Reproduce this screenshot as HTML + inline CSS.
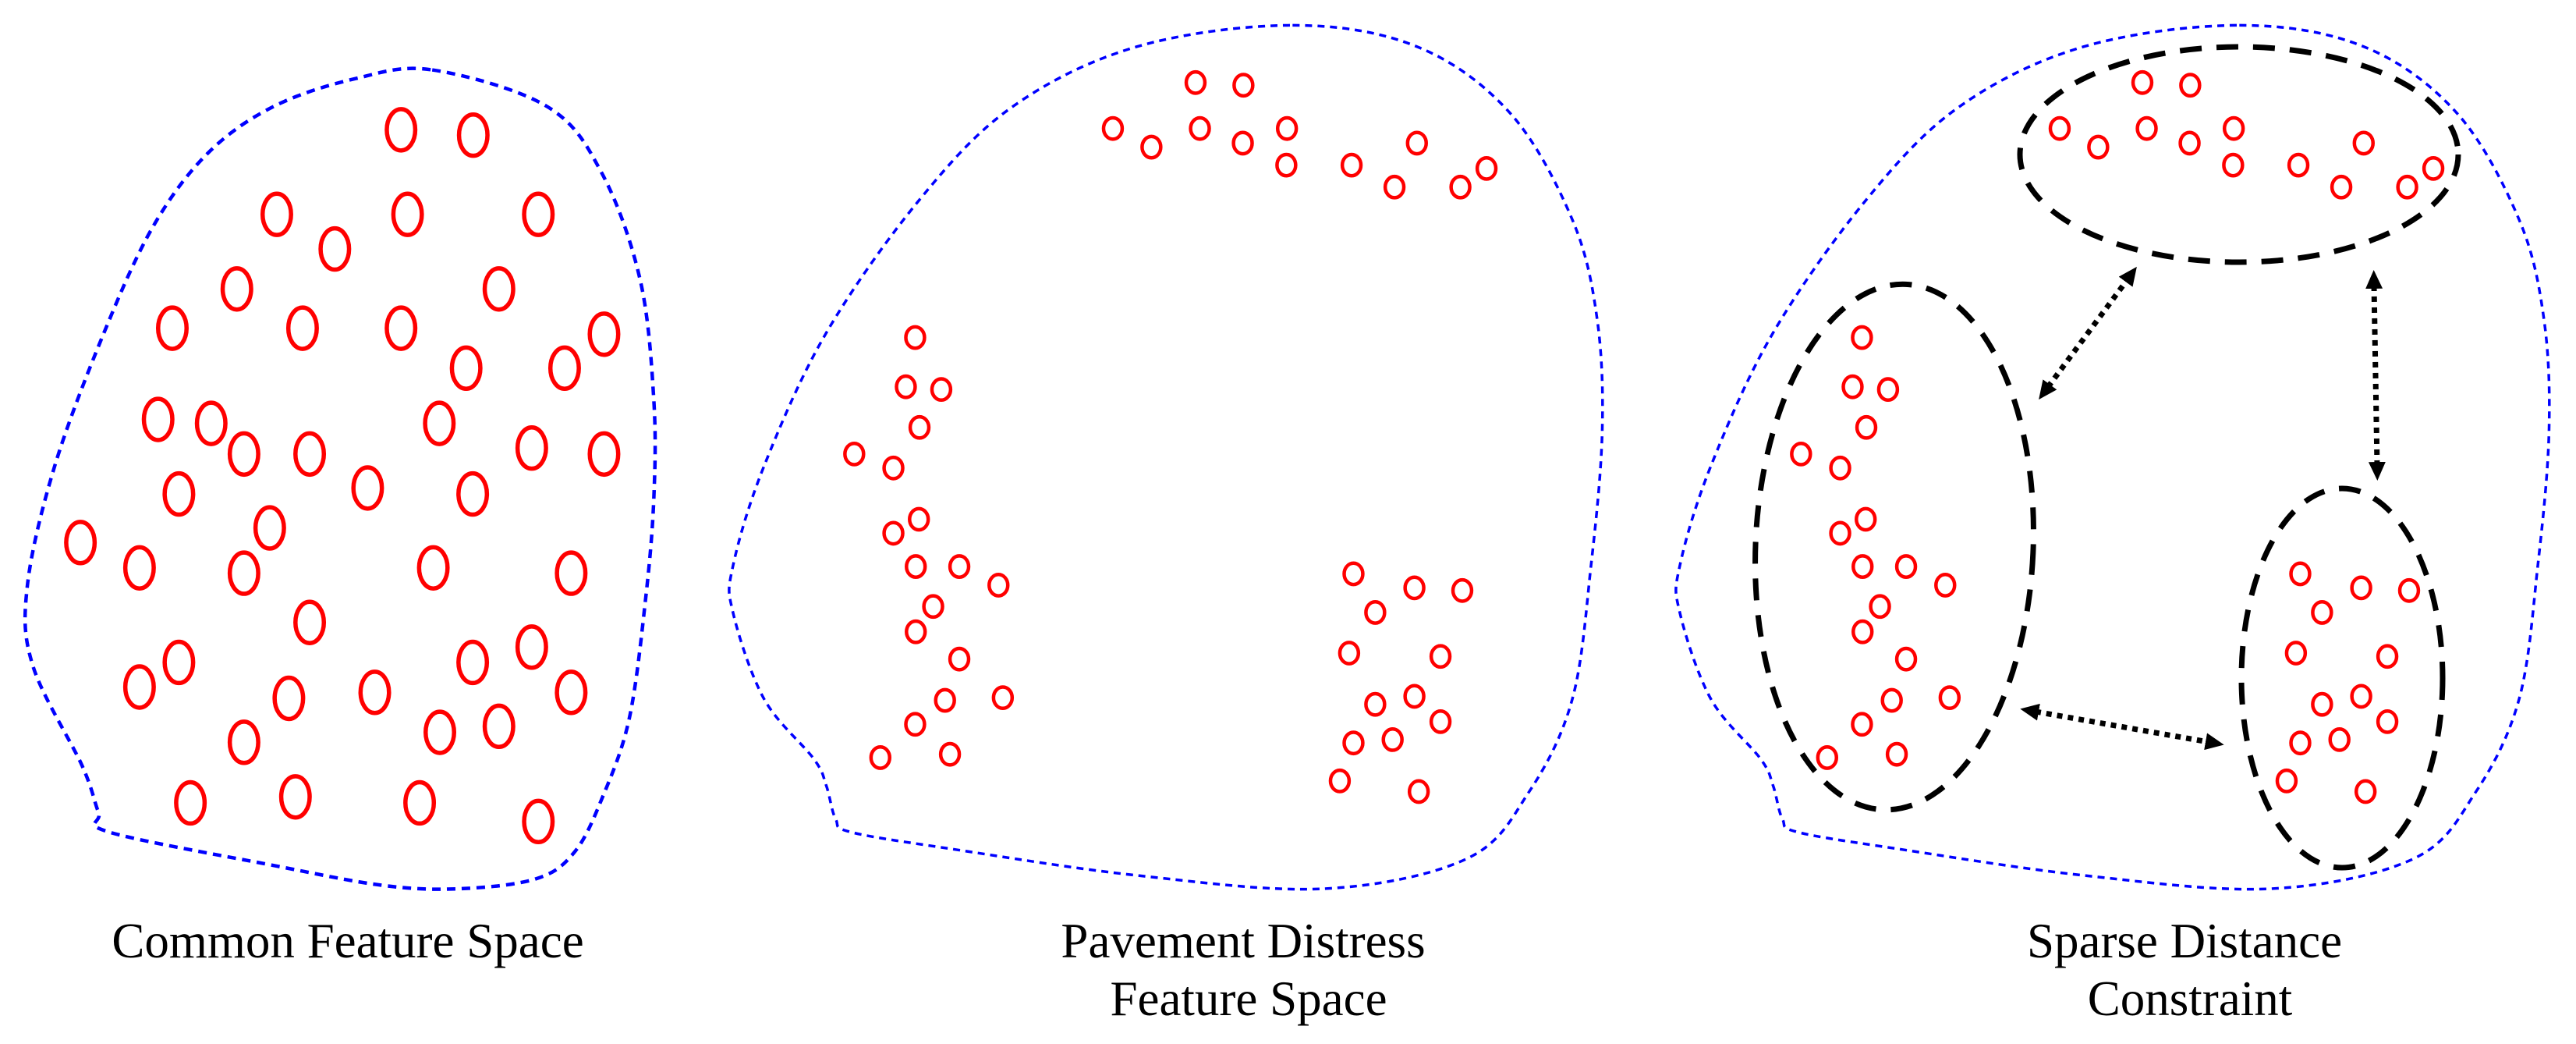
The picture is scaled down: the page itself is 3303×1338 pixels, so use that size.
<!DOCTYPE html>
<html><head><meta charset="utf-8"><style>
html,body{margin:0;padding:0;background:#fff;}
svg{display:block;}
</style></head><body>
<svg width="3303" height="1338" viewBox="0 0 3303 1338" xmlns="http://www.w3.org/2000/svg">
<defs>
<marker id="ah" markerUnits="userSpaceOnUse" markerWidth="26" markerHeight="22" refX="4" refY="11" orient="auto-start-reverse">
<path d="M0,0 L24,11 L0,22 Z" fill="#000"/>
</marker>
</defs>

<g transform="scale(0.7015,0.8532)">
<polygon class="blob" points="790,105 1000,160 1100,260 1170,420 1195,600 1195,750 1180,900 1150,1080 1100,1200 1050,1280 980,1320 840,1335 700,1330 500,1300 200,1250 180,1220 150,1150 60,1000 50,880 100,700 190,500 280,340 380,230 500,160 650,118" fill="none" stroke="#0000ff" stroke-width="4.5" stroke-dasharray="11 8" vector-effect="non-scaling-stroke"/>
<g fill="none" stroke="#ff0000" stroke-width="5.5">
<ellipse cx="733" cy="195" rx="26" ry="31" vector-effect="non-scaling-stroke"/>
<ellipse cx="865" cy="203" rx="26" ry="31" vector-effect="non-scaling-stroke"/>
<ellipse cx="506" cy="322" rx="26" ry="31" vector-effect="non-scaling-stroke"/>
<ellipse cx="745" cy="322" rx="26" ry="31" vector-effect="non-scaling-stroke"/>
<ellipse cx="984" cy="322" rx="26" ry="31" vector-effect="non-scaling-stroke"/>
<ellipse cx="612" cy="374" rx="26" ry="31" vector-effect="non-scaling-stroke"/>
<ellipse cx="433" cy="434" rx="26" ry="31" vector-effect="non-scaling-stroke"/>
<ellipse cx="912" cy="434" rx="26" ry="31" vector-effect="non-scaling-stroke"/>
<ellipse cx="315" cy="493" rx="26" ry="31" vector-effect="non-scaling-stroke"/>
<ellipse cx="553" cy="493" rx="26" ry="31" vector-effect="non-scaling-stroke"/>
<ellipse cx="733" cy="493" rx="26" ry="31" vector-effect="non-scaling-stroke"/>
<ellipse cx="1104" cy="502" rx="26" ry="31" vector-effect="non-scaling-stroke"/>
<ellipse cx="852" cy="553" rx="26" ry="31" vector-effect="non-scaling-stroke"/>
<ellipse cx="1032" cy="553" rx="26" ry="31" vector-effect="non-scaling-stroke"/>
<ellipse cx="289" cy="630" rx="26" ry="31" vector-effect="non-scaling-stroke"/>
<ellipse cx="386" cy="636" rx="26" ry="31" vector-effect="non-scaling-stroke"/>
<ellipse cx="803" cy="636" rx="26" ry="31" vector-effect="non-scaling-stroke"/>
<ellipse cx="446" cy="682" rx="26" ry="31" vector-effect="non-scaling-stroke"/>
<ellipse cx="566" cy="682" rx="26" ry="31" vector-effect="non-scaling-stroke"/>
<ellipse cx="972" cy="673" rx="26" ry="31" vector-effect="non-scaling-stroke"/>
<ellipse cx="1104" cy="682" rx="26" ry="31" vector-effect="non-scaling-stroke"/>
<ellipse cx="327" cy="742" rx="26" ry="31" vector-effect="non-scaling-stroke"/>
<ellipse cx="672" cy="733" rx="26" ry="31" vector-effect="non-scaling-stroke"/>
<ellipse cx="864" cy="742" rx="26" ry="31" vector-effect="non-scaling-stroke"/>
<ellipse cx="493" cy="793" rx="26" ry="31" vector-effect="non-scaling-stroke"/>
<ellipse cx="147" cy="815" rx="26" ry="31" vector-effect="non-scaling-stroke"/>
<ellipse cx="255" cy="853" rx="26" ry="31" vector-effect="non-scaling-stroke"/>
<ellipse cx="446" cy="861" rx="26" ry="31" vector-effect="non-scaling-stroke"/>
<ellipse cx="792" cy="853" rx="26" ry="31" vector-effect="non-scaling-stroke"/>
<ellipse cx="1044" cy="861" rx="26" ry="31" vector-effect="non-scaling-stroke"/>
<ellipse cx="566" cy="935" rx="26" ry="31" vector-effect="non-scaling-stroke"/>
<ellipse cx="327" cy="995" rx="26" ry="31" vector-effect="non-scaling-stroke"/>
<ellipse cx="864" cy="995" rx="26" ry="31" vector-effect="non-scaling-stroke"/>
<ellipse cx="972" cy="972" rx="26" ry="31" vector-effect="non-scaling-stroke"/>
<ellipse cx="255" cy="1032" rx="26" ry="31" vector-effect="non-scaling-stroke"/>
<ellipse cx="528" cy="1049" rx="26" ry="31" vector-effect="non-scaling-stroke"/>
<ellipse cx="685" cy="1040" rx="26" ry="31" vector-effect="non-scaling-stroke"/>
<ellipse cx="1044" cy="1040" rx="26" ry="31" vector-effect="non-scaling-stroke"/>
<ellipse cx="446" cy="1115" rx="26" ry="31" vector-effect="non-scaling-stroke"/>
<ellipse cx="804" cy="1100" rx="26" ry="31" vector-effect="non-scaling-stroke"/>
<ellipse cx="912" cy="1091" rx="26" ry="31" vector-effect="non-scaling-stroke"/>
<ellipse cx="348" cy="1206" rx="26" ry="31" vector-effect="non-scaling-stroke"/>
<ellipse cx="540" cy="1197" rx="26" ry="31" vector-effect="non-scaling-stroke"/>
<ellipse cx="767" cy="1206" rx="26" ry="31" vector-effect="non-scaling-stroke"/>
<ellipse cx="984" cy="1234" rx="26" ry="31" vector-effect="non-scaling-stroke"/>
</g>
</g>
<text x="446" y="1227" text-anchor="middle" font-family="Liberation Serif, Times New Roman, serif" font-size="63" fill="#000">Common Feature Space</text>

<g id="p2" transform="translate(900,0) scale(0.7972,0.8532)">
<polygon class="blob" points="950,38 1150,70 1300,170 1400,330 1440,480 1448,650 1430,850 1400,1050 1330,1190 1230,1290 1000,1335 700,1315 400,1275 240,1250 215,1230 200,1180 180,1140 100,1050 50,920 50,850 100,700 200,500 350,300 500,160 700,70" fill="none" stroke="#0000ff" stroke-width="3.5" stroke-dasharray="9 7" vector-effect="non-scaling-stroke"/>
<g fill="none" stroke="#ff0000" stroke-width="4.5">
<ellipse cx="794" cy="124" rx="15" ry="16" vector-effect="non-scaling-stroke"/>
<ellipse cx="871" cy="128" rx="15" ry="16" vector-effect="non-scaling-stroke"/>
<ellipse cx="661" cy="193" rx="15" ry="16" vector-effect="non-scaling-stroke"/>
<ellipse cx="723" cy="221" rx="15" ry="16" vector-effect="non-scaling-stroke"/>
<ellipse cx="801" cy="193" rx="15" ry="16" vector-effect="non-scaling-stroke"/>
<ellipse cx="870" cy="215" rx="15" ry="16" vector-effect="non-scaling-stroke"/>
<ellipse cx="941" cy="193" rx="15" ry="16" vector-effect="non-scaling-stroke"/>
<ellipse cx="940" cy="248" rx="15" ry="16" vector-effect="non-scaling-stroke"/>
<ellipse cx="1045" cy="248" rx="15" ry="16" vector-effect="non-scaling-stroke"/>
<ellipse cx="1150" cy="215" rx="15" ry="16" vector-effect="non-scaling-stroke"/>
<ellipse cx="1114" cy="281" rx="15" ry="16" vector-effect="non-scaling-stroke"/>
<ellipse cx="1220" cy="281" rx="15" ry="16" vector-effect="non-scaling-stroke"/>
<ellipse cx="1262" cy="253" rx="15" ry="16" vector-effect="non-scaling-stroke"/>
<ellipse cx="343" cy="507" rx="15" ry="16" vector-effect="non-scaling-stroke"/>
<ellipse cx="328" cy="581" rx="15" ry="16" vector-effect="non-scaling-stroke"/>
<ellipse cx="385" cy="585" rx="15" ry="16" vector-effect="non-scaling-stroke"/>
<ellipse cx="350" cy="642" rx="15" ry="16" vector-effect="non-scaling-stroke"/>
<ellipse cx="245" cy="682" rx="15" ry="16" vector-effect="non-scaling-stroke"/>
<ellipse cx="308" cy="703" rx="15" ry="16" vector-effect="non-scaling-stroke"/>
<ellipse cx="349" cy="780" rx="15" ry="16" vector-effect="non-scaling-stroke"/>
<ellipse cx="308" cy="801" rx="15" ry="16" vector-effect="non-scaling-stroke"/>
<ellipse cx="344" cy="851" rx="15" ry="16" vector-effect="non-scaling-stroke"/>
<ellipse cx="414" cy="851" rx="15" ry="16" vector-effect="non-scaling-stroke"/>
<ellipse cx="477" cy="879" rx="15" ry="16" vector-effect="non-scaling-stroke"/>
<ellipse cx="372" cy="911" rx="15" ry="16" vector-effect="non-scaling-stroke"/>
<ellipse cx="344" cy="949" rx="15" ry="16" vector-effect="non-scaling-stroke"/>
<ellipse cx="414" cy="990" rx="15" ry="16" vector-effect="non-scaling-stroke"/>
<ellipse cx="484" cy="1048" rx="15" ry="16" vector-effect="non-scaling-stroke"/>
<ellipse cx="391" cy="1052" rx="15" ry="16" vector-effect="non-scaling-stroke"/>
<ellipse cx="343" cy="1088" rx="15" ry="16" vector-effect="non-scaling-stroke"/>
<ellipse cx="287" cy="1138" rx="15" ry="16" vector-effect="non-scaling-stroke"/>
<ellipse cx="399" cy="1133" rx="15" ry="16" vector-effect="non-scaling-stroke"/>
<ellipse cx="1048" cy="862" rx="15" ry="16" vector-effect="non-scaling-stroke"/>
<ellipse cx="1146" cy="883" rx="15" ry="16" vector-effect="non-scaling-stroke"/>
<ellipse cx="1223" cy="887" rx="15" ry="16" vector-effect="non-scaling-stroke"/>
<ellipse cx="1083" cy="920" rx="15" ry="16" vector-effect="non-scaling-stroke"/>
<ellipse cx="1041" cy="981" rx="15" ry="16" vector-effect="non-scaling-stroke"/>
<ellipse cx="1188" cy="986" rx="15" ry="16" vector-effect="non-scaling-stroke"/>
<ellipse cx="1083" cy="1058" rx="15" ry="16" vector-effect="non-scaling-stroke"/>
<ellipse cx="1146" cy="1046" rx="15" ry="16" vector-effect="non-scaling-stroke"/>
<ellipse cx="1188" cy="1084" rx="15" ry="16" vector-effect="non-scaling-stroke"/>
<ellipse cx="1048" cy="1116" rx="15" ry="16" vector-effect="non-scaling-stroke"/>
<ellipse cx="1111" cy="1111" rx="15" ry="16" vector-effect="non-scaling-stroke"/>
<ellipse cx="1026" cy="1173" rx="15" ry="16" vector-effect="non-scaling-stroke"/>
<ellipse cx="1153" cy="1189" rx="15" ry="16" vector-effect="non-scaling-stroke"/>
</g>
</g>
<text x="1594" y="1227" text-anchor="middle" font-family="Liberation Serif, Times New Roman, serif" font-size="63" fill="#000">Pavement Distress</text>
<text x="1601" y="1301" text-anchor="middle" font-family="Liberation Serif, Times New Roman, serif" font-size="63" fill="#000">Feature Space</text>

<use href="#p2" transform="translate(1214,0)"/>
<g fill="none" stroke="#000" stroke-width="7" stroke-dasharray="28 19">
<ellipse cx="2871" cy="198" rx="281" ry="138"/>
<ellipse cx="2429" cy="701" rx="178" ry="337" transform="rotate(2.5 2429 701)"/>
<ellipse cx="3003" cy="869" rx="129" ry="243"/>
</g>
<g stroke="#000" stroke-width="7" stroke-dasharray="7 7" fill="none">
<line x1="2626" y1="496" x2="2728" y2="358" marker-start="url(#ah)" marker-end="url(#ah)"/>
<line x1="3044" y1="366" x2="3048" y2="596" marker-start="url(#ah)" marker-end="url(#ah)"/>
<line x1="2610" y1="912" x2="2832" y2="951" marker-start="url(#ah)" marker-end="url(#ah)"/>
</g>
<text x="2801" y="1227" text-anchor="middle" font-family="Liberation Serif, Times New Roman, serif" font-size="63" fill="#000">Sparse Distance</text>
<text x="2808" y="1301" text-anchor="middle" font-family="Liberation Serif, Times New Roman, serif" font-size="63" fill="#000">Constraint</text>
</svg>
<script>
(function(){
var ps=document.querySelectorAll('polygon.blob');
for(var j=0;j<ps.length;j++){
  var pg=ps[j];
  var a=pg.getAttribute('points').trim().split(/\s+/).map(function(s){var p=s.split(',');return [+p[0],+p[1]];});
  var n=a.length,d='M'+a[0][0]+','+a[0][1];
  for(var i=0;i<n;i++){
    var p0=a[(i-1+n)%n],p1=a[i],p2=a[(i+1)%n],p3=a[(i+2)%n];
    d+=' C'+(p1[0]+(p2[0]-p0[0])/6)+','+(p1[1]+(p2[1]-p0[1])/6)+' '+(p2[0]-(p3[0]-p1[0])/6)+','+(p2[1]-(p3[1]-p1[1])/6)+' '+p2[0]+','+p2[1];
  }
  d+='Z';
  var path=document.createElementNS('http://www.w3.org/2000/svg','path');
  ['fill','stroke','stroke-width','stroke-dasharray','vector-effect'].forEach(function(k){path.setAttribute(k,pg.getAttribute(k));});
  path.setAttribute('d',d);
  pg.parentNode.replaceChild(path,pg);
}
})();
</script>
</body></html>
